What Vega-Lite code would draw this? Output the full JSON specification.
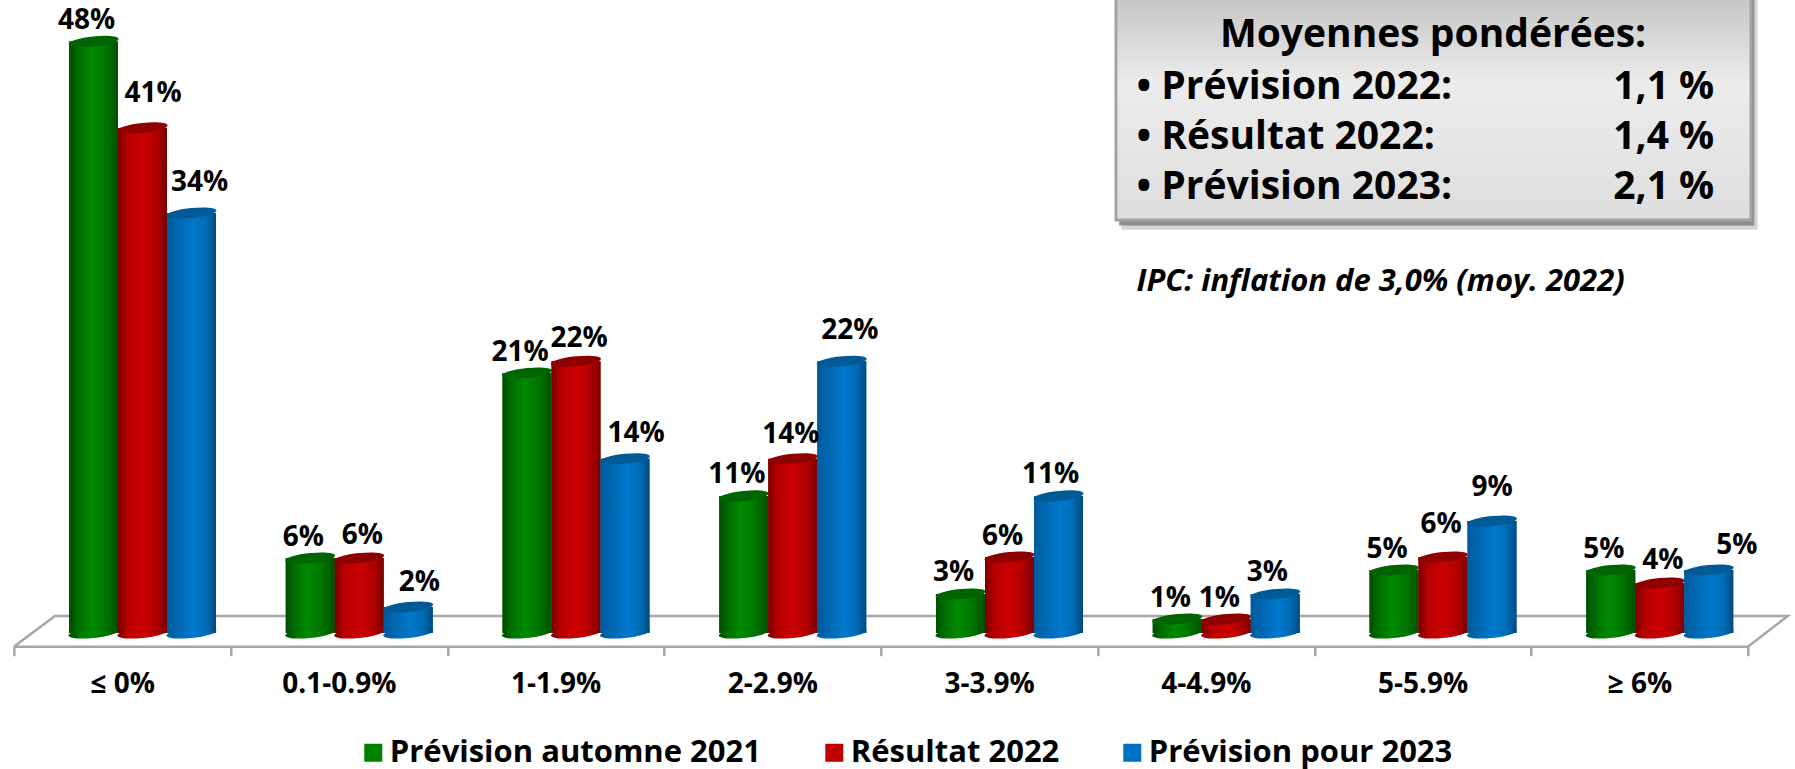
{
"$schema":"https://vega.github.io/schema/vega-lite/v6.json",
"width":1734,"height":633,
"autosize":{"type":"none"},
"padding":{"left":13.8,"top":0,"right":47,"bottom":136},
"background":"white",
"view":{"stroke":null},
"config":{"font":"Open Sans","text":{"font":"Open Sans"}},
"datasets":{
"barres":[
{"classe":"≤ 0%","serie":"Prévision automne 2021","valeur":47.9,"etiquette":"48%"},
{"classe":"≤ 0%","serie":"Résultat 2022","valeur":40.9,"etiquette":"41%"},
{"classe":"≤ 0%","serie":"Prévision pour 2023","valeur":34,"etiquette":"34%"},
{"classe":"0.1-0.9%","serie":"Prévision automne 2021","valeur":6.07,"etiquette":"6%"},
{"classe":"0.1-0.9%","serie":"Résultat 2022","valeur":6.07,"etiquette":"6%"},
{"classe":"0.1-0.9%","serie":"Prévision pour 2023","valeur":2.1,"etiquette":"2%"},
{"classe":"1-1.9%","serie":"Prévision automne 2021","valeur":21.05,"etiquette":"21%"},
{"classe":"1-1.9%","serie":"Résultat 2022","valeur":22,"etiquette":"22%"},
{"classe":"1-1.9%","serie":"Prévision pour 2023","valeur":14.1,"etiquette":"14%"},
{"classe":"2-2.9%","serie":"Prévision automne 2021","valeur":11.1,"etiquette":"11%"},
{"classe":"2-2.9%","serie":"Résultat 2022","valeur":14.1,"etiquette":"14%"},
{"classe":"2-2.9%","serie":"Prévision pour 2023","valeur":22,"etiquette":"22%"},
{"classe":"3-3.9%","serie":"Prévision automne 2021","valeur":3.16,"etiquette":"3%"},
{"classe":"3-3.9%","serie":"Résultat 2022","valeur":6.15,"etiquette":"6%"},
{"classe":"3-3.9%","serie":"Prévision pour 2023","valeur":11.1,"etiquette":"11%"},
{"classe":"4-4.9%","serie":"Prévision automne 2021","valeur":1.13,"etiquette":"1%"},
{"classe":"4-4.9%","serie":"Résultat 2022","valeur":1.13,"etiquette":"1%"},
{"classe":"4-4.9%","serie":"Prévision pour 2023","valeur":3.16,"etiquette":"3%"},
{"classe":"5-5.9%","serie":"Prévision automne 2021","valeur":5.1,"etiquette":"5%"},
{"classe":"5-5.9%","serie":"Résultat 2022","valeur":6.15,"etiquette":"6%"},
{"classe":"5-5.9%","serie":"Prévision pour 2023","valeur":9.07,"etiquette":"9%"},
{"classe":"≥ 6%","serie":"Prévision automne 2021","valeur":5.1,"etiquette":"5%"},
{"classe":"≥ 6%","serie":"Résultat 2022","valeur":4.05,"etiquette":"4%"},
{"classe":"≥ 6%","serie":"Prévision pour 2023","valeur":5.1,"etiquette":"5%"}
],
"sol":[
{"ordre":1,"px":0,"py":-1.11},
{"ordre":2,"px":0.19,"py":1.38},
{"ordre":3,"px":8.185,"py":1.38},
{"ordre":4,"px":8,"py":-1.11},
{"ordre":5,"px":0,"py":-1.11}
],
"cadre":[{"px":5.085,"px2":8.015,"py":33.45,"py2":52}],
"ombre":[{"px":5.1,"px2":8.03,"py":33.0,"py2":52}],
"ombre2":[{"px":5.11,"px2":8.045,"py":32.65,"py2":52}],
"textes":[
{"px":6.548,"py":47.45,"t":"Moyennes pondérées:","a":"milieu"},
{"px":5.18,"py":43.24,"t":"• Prévision 2022:","a":"g"},
{"px":5.18,"py":39.19,"t":"• Résultat 2022:","a":"g"},
{"px":5.18,"py":35.14,"t":"• Prévision 2023:","a":"g"},
{"px":7.845,"py":43.24,"t":"1,1 %","a":"d"},
{"px":7.845,"py":39.19,"t":"1,4 %","a":"d"},
{"px":7.845,"py":35.14,"t":"2,1 %","a":"d"}
],
"note":[{"px":5.18,"py":27.7,"t":"IPC: inflation de 3,0% (moy. 2022)"}]
},
"encoding":{"y":{"type":"quantitative","scale":{"domain":[0,51.255],"nice":false,"zero":false},"axis":null}},
"layer":[
{"data":{"name":"ombre2"},"mark":{"type":"rect","fill":"#d4d4d4"},"encoding":{"x":{"field":"px","type":"quantitative","scale":{"domain":[0,8],"nice":false,"zero":false},"axis":null},"x2":{"field":"px2"},"y":{"field":"py","type":"quantitative"},"y2":{"field":"py2"}}},
{"data":{"name":"ombre"},"mark":{"type":"rect","fill":"#8c8c8c"},"encoding":{"x":{"field":"px","type":"quantitative","scale":{"domain":[0,8],"nice":false,"zero":false},"axis":null},"x2":{"field":"px2"},"y":{"field":"py","type":"quantitative"},"y2":{"field":"py2"}}},
{"data":{"name":"cadre"},"mark":{"type":"rect","stroke":"#a3a3a3","strokeWidth":3,"fill":{"gradient":"linear","x1":0,"y1":0,"x2":0,"y2":1,"stops":[{"offset":0,"color":"#c2c2c2"},{"offset":0.4,"color":"#ececec"},{"offset":1,"color":"#dedede"}]}},"encoding":{"x":{"field":"px","type":"quantitative","scale":{"domain":[0,8],"nice":false,"zero":false},"axis":null},"x2":{"field":"px2"},"y":{"field":"py","type":"quantitative"},"y2":{"field":"py2"}}},
{"data":{"name":"textes"},"transform":[{"filter":{"field":"a","equal":"milieu"}}],"mark":{"type":"text","font":"Open Sans","fontWeight":"bold","fontSize":39,"align":"center","baseline":"alphabetic"},"encoding":{"x":{"field":"px","type":"quantitative","scale":{"domain":[0,8],"nice":false,"zero":false},"axis":null},"y":{"field":"py","type":"quantitative"},"text":{"field":"t"}}},
{"data":{"name":"textes"},"transform":[{"filter":{"field":"a","equal":"g"}}],"mark":{"type":"text","font":"Open Sans","fontWeight":"bold","fontSize":39,"align":"left","baseline":"alphabetic"},"encoding":{"x":{"field":"px","type":"quantitative","scale":{"domain":[0,8],"nice":false,"zero":false},"axis":null},"y":{"field":"py","type":"quantitative"},"text":{"field":"t"}}},
{"data":{"name":"textes"},"transform":[{"filter":{"field":"a","equal":"d"}}],"mark":{"type":"text","font":"Open Sans","fontWeight":"bold","fontSize":39,"align":"right","baseline":"alphabetic"},"encoding":{"x":{"field":"px","type":"quantitative","scale":{"domain":[0,8],"nice":false,"zero":false},"axis":null},"y":{"field":"py","type":"quantitative"},"text":{"field":"t"}}},
{"data":{"name":"note"},"mark":{"type":"text","font":"Open Sans","fontWeight":"bold","fontStyle":"italic","fontSize":31,"align":"left","baseline":"alphabetic"},"encoding":{"x":{"field":"px","type":"quantitative","scale":{"domain":[0,8],"nice":false,"zero":false},"axis":null},"y":{"field":"py","type":"quantitative"},"text":{"field":"t"}}},
{"data":{"name":"sol"},"mark":{"type":"line","color":"#a6a6a6","strokeWidth":2.5,"interpolate":"linear"},"encoding":{"x":{"field":"px","type":"quantitative","scale":{"domain":[0,8],"nice":false,"zero":false},"axis":null},"y":{"field":"py","type":"quantitative"},"order":{"field":"ordre"}}},
{"data":{"name":"barres"},
"encoding":{
"x":{"field":"classe","type":"nominal","sort":["≤ 0%","0.1-0.9%","1-1.9%","2-2.9%","3-3.9%","4-4.9%","5-5.9%","≥ 6%"],"scale":{"paddingInner":0,"paddingOuter":0},"axis":{"title":null,"labelAngle":0,"domain":false,"offset":13.7,"tickSize":9,"tickColor":"#a6a6a6","tickWidth":2.5,"tickBand":"extent","labelFont":"Open Sans","labelFontWeight":"bold","labelFontSize":28,"labelColor":"black","labelPadding":29,"labelBaseline":"middle"}},
"xOffset":{"field":"serie","type":"nominal","sort":["Prévision automne 2021","Résultat 2022","Prévision pour 2023"],"scale":{"range":[55.2,202.2],"paddingInner":0,"paddingOuter":0}},
"y":{"field":"valeur","type":"quantitative"}
},
"layer":[
{"mark":{"type":"bar"},"encoding":{"color":{"field":"serie","type":"nominal","sort":["Prévision automne 2021","Résultat 2022","Prévision pour 2023"],"scale":{"domain":["Prévision automne 2021","Résultat 2022","Prévision pour 2023"],"range":["#008000","#c00000","#0070c0"]},"legend":{"title":null,"orient":"none","legendX":344,"legendY":737,"direction":"horizontal","symbolType":"square","symbolSize":324,"symbolStrokeWidth":0,"labelFont":"Open Sans","labelFontWeight":"bold","labelFontSize":31,"labelColor":"black","labelLimit":600,"columnPadding":57,"labelOffset":1}}}},
{"transform":[{"filter":{"field":"serie","equal":"Prévision automne 2021"}}],"mark":{"type":"point","filled":true,"opacity":1,"size":2500,"shape":"M-1,0.1C-1,-0.01,-0.55,-0.145,0,-0.2C0.55,-0.255,1,-0.21,1,-0.1C1,0.01,0.55,0.145,0,0.2C-0.55,0.255,-1,0.21,-1,0.1Z","fill":{"gradient":"linear","x1":0,"x2":1,"y1":0,"y2":0,"stops":[{"offset":0,"color":"#004d00"},{"offset":0.2,"color":"#007000"},{"offset":0.45,"color":"#008a00"},{"offset":0.75,"color":"#007400"},{"offset":1,"color":"#005000"}]}},"encoding":{"y":{"datum":0}}},
{"transform":[{"filter":{"field":"serie","equal":"Prévision automne 2021"}}],"mark":{"type":"bar","fill":{"gradient":"linear","x1":0,"x2":1,"y1":0,"y2":0,"stops":[{"offset":0,"color":"#004d00"},{"offset":0.2,"color":"#007000"},{"offset":0.45,"color":"#008a00"},{"offset":0.75,"color":"#007400"},{"offset":1,"color":"#005000"}]}}},
{"transform":[{"filter":{"field":"serie","equal":"Prévision automne 2021"}}],"mark":{"type":"point","filled":true,"opacity":1,"size":2500,"shape":"M-1,0.1C-1,-0.01,-0.55,-0.145,0,-0.2C0.55,-0.255,1,-0.21,1,-0.1C1,0.01,0.55,0.145,0,0.2C-0.55,0.255,-1,0.21,-1,0.1Z","fill":"#006400"}},
{"transform":[{"filter":{"field":"serie","equal":"Résultat 2022"}}],"mark":{"type":"point","filled":true,"opacity":1,"size":2500,"shape":"M-1,0.1C-1,-0.01,-0.55,-0.145,0,-0.2C0.55,-0.255,1,-0.21,1,-0.1C1,0.01,0.55,0.145,0,0.2C-0.55,0.255,-1,0.21,-1,0.1Z","fill":{"gradient":"linear","x1":0,"x2":1,"y1":0,"y2":0,"stops":[{"offset":0,"color":"#7a0000"},{"offset":0.2,"color":"#b80000"},{"offset":0.5,"color":"#cc0000"},{"offset":0.8,"color":"#b00000"},{"offset":1,"color":"#780000"}]}},"encoding":{"y":{"datum":0}}},
{"transform":[{"filter":{"field":"serie","equal":"Résultat 2022"}}],"mark":{"type":"bar","fill":{"gradient":"linear","x1":0,"x2":1,"y1":0,"y2":0,"stops":[{"offset":0,"color":"#7a0000"},{"offset":0.2,"color":"#b80000"},{"offset":0.5,"color":"#cc0000"},{"offset":0.8,"color":"#b00000"},{"offset":1,"color":"#780000"}]}}},
{"transform":[{"filter":{"field":"serie","equal":"Résultat 2022"}}],"mark":{"type":"point","filled":true,"opacity":1,"size":2500,"shape":"M-1,0.1C-1,-0.01,-0.55,-0.145,0,-0.2C0.55,-0.255,1,-0.21,1,-0.1C1,0.01,0.55,0.145,0,0.2C-0.55,0.255,-1,0.21,-1,0.1Z","fill":"#8f0000"}},
{"transform":[{"filter":{"field":"serie","equal":"Prévision pour 2023"}}],"mark":{"type":"point","filled":true,"opacity":1,"size":2500,"shape":"M-1,0.1C-1,-0.01,-0.55,-0.145,0,-0.2C0.55,-0.255,1,-0.21,1,-0.1C1,0.01,0.55,0.145,0,0.2C-0.55,0.255,-1,0.21,-1,0.1Z","fill":{"gradient":"linear","x1":0,"x2":1,"y1":0,"y2":0,"stops":[{"offset":0,"color":"#005a9c"},{"offset":0.25,"color":"#0069b3"},{"offset":0.55,"color":"#0078cc"},{"offset":0.8,"color":"#006cb5"},{"offset":1,"color":"#004a80"}]}},"encoding":{"y":{"datum":0}}},
{"transform":[{"filter":{"field":"serie","equal":"Prévision pour 2023"}}],"mark":{"type":"bar","fill":{"gradient":"linear","x1":0,"x2":1,"y1":0,"y2":0,"stops":[{"offset":0,"color":"#005a9c"},{"offset":0.25,"color":"#0069b3"},{"offset":0.55,"color":"#0078cc"},{"offset":0.8,"color":"#006cb5"},{"offset":1,"color":"#004a80"}]}}},
{"transform":[{"filter":{"field":"serie","equal":"Prévision pour 2023"}}],"mark":{"type":"point","filled":true,"opacity":1,"size":2500,"shape":"M-1,0.1C-1,-0.01,-0.55,-0.145,0,-0.2C0.55,-0.255,1,-0.21,1,-0.1C1,0.01,0.55,0.145,0,0.2C-0.55,0.255,-1,0.21,-1,0.1Z","fill":"#005a96"}},
{"transform":[{"filter":{"field":"serie","equal":"Prévision automne 2021"}}],"mark":{"type":"text","font":"Open Sans","fontWeight":"bold","fontSize":28,"baseline":"alphabetic","dx":-7,"dy":-12.5,"color":"black"},"encoding":{"text":{"field":"etiquette"}}},
{"transform":[{"filter":{"field":"serie","equal":"Résultat 2022"}},{"filter":{"field":"classe","oneOf":["≤ 0%"]}}],"mark":{"type":"text","font":"Open Sans","fontWeight":"bold","fontSize":28,"baseline":"alphabetic","dx":10.5,"dy":-26,"color":"black"},"encoding":{"text":{"field":"etiquette"}}},
{"transform":[{"filter":{"field":"serie","equal":"Résultat 2022"}},{"filter":{"field":"classe","oneOf":["0.1-0.9%","1-1.9%","≥ 6%"]}}],"mark":{"type":"text","font":"Open Sans","fontWeight":"bold","fontSize":28,"baseline":"alphabetic","dx":3,"dy":-14,"color":"black"},"encoding":{"text":{"field":"etiquette"}}},
{"transform":[{"filter":{"field":"serie","equal":"Résultat 2022"}},{"filter":{"field":"classe","oneOf":["2-2.9%"]}}],"mark":{"type":"text","font":"Open Sans","fontWeight":"bold","fontSize":28,"baseline":"alphabetic","dx":-2,"dy":-16,"color":"black"},"encoding":{"text":{"field":"etiquette"}}},
{"transform":[{"filter":{"field":"serie","equal":"Résultat 2022"}},{"filter":{"field":"classe","oneOf":["3-3.9%","4-4.9%"]}}],"mark":{"type":"text","font":"Open Sans","fontWeight":"bold","fontSize":28,"baseline":"alphabetic","dx":-7,"dy":-12.5,"color":"black"},"encoding":{"text":{"field":"etiquette"}}},
{"transform":[{"filter":{"field":"serie","equal":"Résultat 2022"}},{"filter":{"field":"classe","oneOf":["5-5.9%"]}}],"mark":{"type":"text","font":"Open Sans","fontWeight":"bold","fontSize":28,"baseline":"alphabetic","dx":-2,"dy":-24,"color":"black"},"encoding":{"text":{"field":"etiquette"}}},
{"transform":[{"filter":{"field":"serie","equal":"Prévision pour 2023"}},{"filter":{"field":"classe","oneOf":["≤ 0%","2-2.9%"]}}],"mark":{"type":"text","font":"Open Sans","fontWeight":"bold","fontSize":28,"baseline":"alphabetic","dx":8,"dy":-22,"color":"black"},"encoding":{"text":{"field":"etiquette"}}},
{"transform":[{"filter":{"field":"serie","equal":"Prévision pour 2023"}},{"filter":{"field":"classe","oneOf":["0.1-0.9%","1-1.9%"]}}],"mark":{"type":"text","font":"Open Sans","fontWeight":"bold","fontSize":28,"baseline":"alphabetic","dx":11,"dy":-16.5,"color":"black"},"encoding":{"text":{"field":"etiquette"}}},
{"transform":[{"filter":{"field":"serie","equal":"Prévision pour 2023"}},{"filter":{"field":"classe","oneOf":["3-3.9%","4-4.9%"]}}],"mark":{"type":"text","font":"Open Sans","fontWeight":"bold","fontSize":28,"baseline":"alphabetic","dx":-8,"dy":-12.5,"color":"black"},"encoding":{"text":{"field":"etiquette"}}},
{"transform":[{"filter":{"field":"serie","equal":"Prévision pour 2023"}},{"filter":{"field":"classe","oneOf":["5-5.9%"]}}],"mark":{"type":"text","font":"Open Sans","fontWeight":"bold","fontSize":28,"baseline":"alphabetic","dx":0,"dy":-25,"color":"black"},"encoding":{"text":{"field":"etiquette"}}},
{"transform":[{"filter":{"field":"serie","equal":"Prévision pour 2023"}},{"filter":{"field":"classe","oneOf":["≥ 6%"]}}],"mark":{"type":"text","font":"Open Sans","fontWeight":"bold","fontSize":28,"baseline":"alphabetic","dx":28,"dy":-16,"color":"black"},"encoding":{"text":{"field":"etiquette"}}}
]}
],
"resolve":{"scale":{"x":"independent"}}
}
